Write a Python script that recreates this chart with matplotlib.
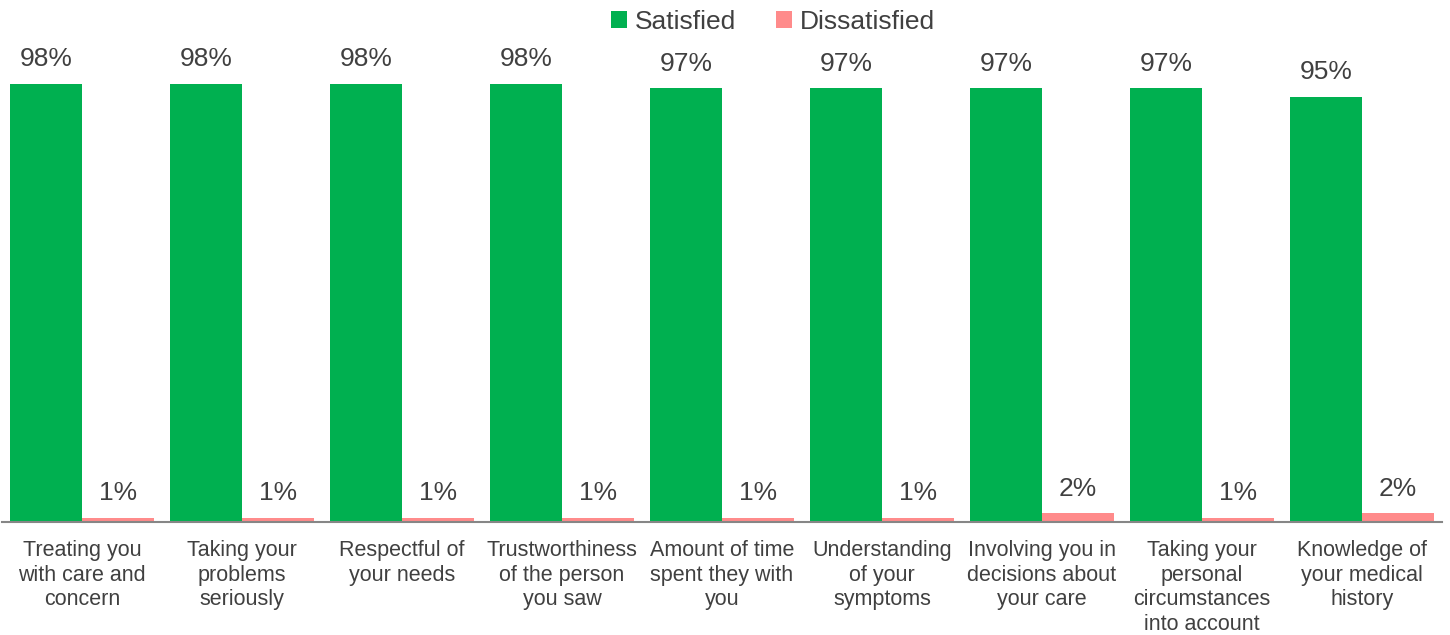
import numpy as np
import matplotlib.pyplot as plt

plt.rcParams['font.family'] = ['Liberation Sans', 'DejaVu Sans']

categories = [
    'Treating you\nwith care and\nconcern',
    'Taking your\nproblems\nseriously',
    'Respectful of\nyour needs',
    'Trustworthiness\nof the person\nyou saw',
    'Amount of time\nspent they with\nyou',
    'Understanding\nof your\nsymptoms',
    'Involving you in\ndecisions about\nyour care',
    'Taking your\npersonal\ncircumstances\ninto account',
    'Knowledge of\nyour medical\nhistory',
]
satisfied = [98, 98, 98, 98, 97, 97, 97, 97, 95]
dissatisfied = [1, 1, 1, 1, 1, 1, 2, 1, 2]

green = '#00B050'
pink = '#FF8B8B'
text_col = '#404040'

fig = plt.figure(figsize=(14.5, 6.35), dpi=100)
ax = fig.add_axes([2 / 1450, 113 / 635, 1440 / 1450, 0.775])

x = np.arange(len(categories))
w = 0.45
b1 = ax.bar(x - w / 2, satisfied, w, color=green, label='Satisfied')
b2 = ax.bar(x + w / 2, dissatisfied, w, color=pink, label='Dissatisfied')

for bars, vals in [(b1, satisfied), (b2, dissatisfied)]:
    for r, v in zip(bars, vals):
        ax.annotate(f'{v}%', (r.get_x() + r.get_width() / 2, v),
                    xytext=(0, 9), textcoords='offset points',
                    ha='center', va='bottom', fontsize=19, color=text_col)

ax.set_xlim(-0.5, len(categories) - 0.5)
ax.set_ylim(0, 110)
ax.set_xticks(x)
ax.set_xticklabels(categories, fontsize=15.5, color=text_col, linespacing=1.23)
ax.tick_params(axis='x', length=0, pad=13)
ax.set_yticks([])
for s in ['top', 'right', 'left']:
    ax.spines[s].set_visible(False)
ax.spines['bottom'].set_color('#868686')
ax.spines['bottom'].set_linewidth(1.5)

fig.legend(loc='upper center', bbox_to_anchor=(0.533, 1.022), ncol=2, frameon=False,
           fontsize=19, handlelength=0.6, handleheight=0.6, handletextpad=0.3,
           columnspacing=1.5, labelcolor=text_col)

fig.savefig('out.png', dpi=100)
